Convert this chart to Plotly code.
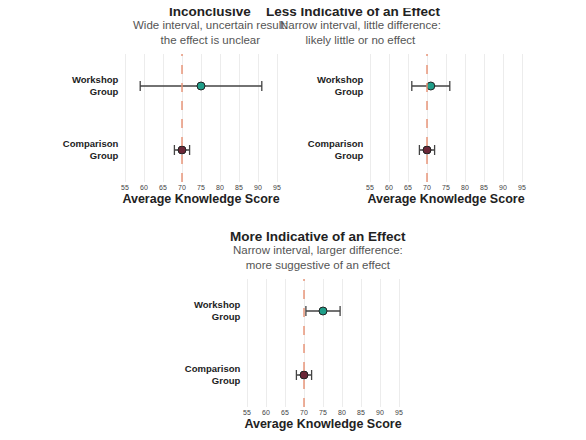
import plotly.graph_objects as go

groups = ["Comparison<br>Group", "Workshop<br>Group"]
titles = ["Inconclusive", "Less Indicative of an Effect", "More Indicative of an Effect"]
subtitles = ["Wide interval, uncertain result:<br>the effect is unclear",
             "Narrow interval, little difference:<br>likely little or no effect",
             "Narrow interval, larger difference:<br>more suggestive of an effect"]
means = [[70, 75], [70, 71], [70, 75]]
lows = [[68, 59], [68, 66], [68, 70.5]]
highs = [[72, 91], [72, 76], [72, 79.5]]
colors = ["#6b2737", "#1f9e89"]
ticks = [55, 60, 65, 70, 75, 80, 85, 90, 95]
ref = 70

W, H = 586, 440
off = 8  # page body margin
panels = [  # x0,x1 px, y top, y bottom px, title center x, title y
    (119.3, 282.7, 54, 182, 210, 12),
    (364.3, 527.7, 54, 182, 443, 12),
    (241.3, 404.7, 279, 407, 318, 236),
]
fig = go.Figure()
for i, (x0, x1, yt, yb, tx, ty) in enumerate(panels):
    x0 -= off; x1 -= off; yt -= off; yb -= off; tx -= off; ty -= off
    n = "" if i == 0 else str(i + 1)
    xa, ya = "x" + n, "y" + n
    fig.add_shape(type="line", xref=xa, yref=ya + " domain", x0=ref, x1=ref, y0=0, y1=1,
                  line=dict(color="#e9967a", width=1.5, dash="dash"), layer="above")
    for j in range(2):
        fig.add_trace(go.Scatter(
            x=[means[i][j]], y=[j], xaxis=xa, yaxis=ya, mode="markers",
            marker=dict(size=8, color=colors[j], line=dict(color="#222", width=1)),
            error_x=dict(type="data", symmetric=False,
                         array=[highs[i][j] - means[i][j]],
                         arrayminus=[means[i][j] - lows[i][j]],
                         color="#444", thickness=1.3, width=5),
            showlegend=False))
    fig.layout["xaxis" + n] = dict(domain=[x0 / W, x1 / W], range=[53.5, 96.5], anchor=ya,
        tickvals=ticks, tickfont=dict(size=7, color="#444"), showgrid=True,
        gridcolor="#ececec", zeroline=False, showline=False, ticks="",
        title=dict(text="<b>Average Knowledge Score</b>", font=dict(size=12.5, color="#222"), standoff=4))
    fig.layout["yaxis" + n] = dict(domain=[1 - yb / H, 1 - yt / H], range=[-0.5, 1.5], anchor=xa,
        tickvals=[0, 1], ticktext=["<b>" + g + "</b>" for g in groups],
        tickfont=dict(size=9.5, color="#222"), showgrid=False, zeroline=False, ticks="", ticklen=0)
    fig.add_annotation(text="<b>" + titles[i] + "</b>", x=tx / W, y=1 - ty / H, xref="paper", yref="paper",
                       showarrow=False, font=dict(size=13.5, color="#222"), yanchor="middle")
    fig.add_annotation(text=subtitles[i], x=tx / W, y=1 - (ty + 21) / H, xref="paper", yref="paper",
                       showarrow=False, font=dict(size=11.5, color="#555"), yanchor="middle")

fig.update_layout(width=W, height=H, margin=dict(l=0, r=0, t=0, b=0),
                  plot_bgcolor="white", paper_bgcolor="white",
                  font=dict(family="Liberation Sans"))
fig.write_html("out.html")
